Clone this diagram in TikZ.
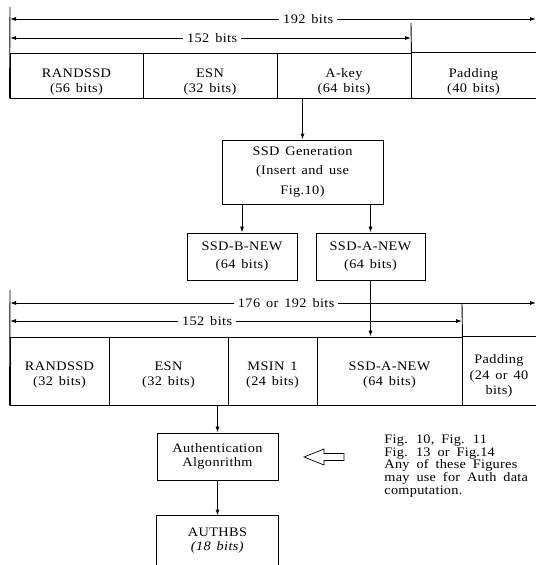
\documentclass[tikz,border=0pt]{standalone}
\usepackage{fontspec}
\setmainfont[FakeStretch=1.1,LetterSpace=3,WordSpace=1.5]{Liberation Serif}
\newfontfamily\notefont[FakeStretch=1.1,LetterSpace=2,WordSpace=1.8]{Liberation Serif}
\usetikzlibrary{arrows.meta,calc}

\begin{document}
\begin{tikzpicture}[x=1pt,y=-1pt,
  line width=0.9pt,
  every node/.style={inner sep=0pt, font=\fontsize{13}{15.5}\selectfont},
  framed/.style={draw},
  topcell/.style={minimum height=45pt},
  midcell/.style={minimum height=68pt},
  celltext/.style={align=center},
  boxnode/.style={draw, align=center},
  arr/.style={-{Latex[length=6pt,width=4pt]}},
  dim/.style={{Latex[length=6pt,width=4pt]}-{Latex[length=6pt,width=4pt]}},
  dimlabel/.style={fill=white, inner xsep=4pt, inner ysep=1pt},
  notetext/.style={anchor=west, align=left, font=\notefont\fontsize{13}{12.7}\selectfont}]

\useasboundingbox (0,0) rectangle (538,565);

% ---- first record: RANDSSD | ESN | A-key | Padding ----
\node[framed, topcell, minimum width=133pt] (rand1) at (76.5,75.5) {};
\node[framed, topcell, minimum width=134pt] (esn1)  at (210,75.5) {};
\node[framed, topcell, minimum width=134pt] (akey1) at (344,75.5) {};
\node[topcell, minimum width=125pt]         (pad1)  at (473.5,75.5) {};
\draw (pad1.north west) -- (pad1.north east);
\draw (pad1.south west) -- (pad1.south east);

\node[celltext] (rand1t) at (rand1 |- 0,82) {RANDSSD\\(56 bits)};
\node[celltext] (esn1t)  at (esn1 |- 0,82)  {ESN\\(32 bits)};
\node[celltext] (akey1t) at (akey1 |- 0,82) {A-key\\(64 bits)};
\node[celltext] (pad1t)  at (pad1 |- 0,82)  {Padding\\(40 bits)};

% length marks above the first record
\coordinate (edge1) at (10,7);
\coordinate (tick1) at (411,23);
\draw (edge1) -- (rand1.south west);
\draw (tick1) -- (akey1.north east);
\coordinate (a192l) at (10,19);
\coordinate (a192r) at (536,19);
\coordinate (a152l) at (10,38);
\coordinate (a152r) at (411,38);
\draw[dim] (a192l) -- (a192r) node[dimlabel, pos=0.567] (t192) {192 bits};
\draw[dim] (a152l) -- (a152r) node[dimlabel, pos=0.504] (t152) {152 bits};

% ---- SSD generation ----
\node[boxnode, minimum width=161pt, minimum height=64pt,
      font=\fontsize{13}{19.5}\selectfont] (ssdgen) at (302.5,172)
      {SSD Generation\\(Insert and use\\Fig.10)};
\node[boxnode, minimum width=110pt, minimum height=47pt,
      font=\fontsize{13}{18}\selectfont] (ssdb) at (242,256.5)
      {SSD-B-NEW\\(64 bits)};
\node[boxnode, minimum width=109pt, minimum height=47pt,
      font=\fontsize{13}{18}\selectfont] (ssda) at (370.5,256.5)
      {SSD-A-NEW\\(64 bits)};

% ---- second record: RANDSSD | ESN | MSIN 1 | SSD-A-NEW | Padding ----
\node[framed, midcell, minimum width=99pt]  (rand2)  at (59.5,371) {};
\node[framed, midcell, minimum width=119pt] (esn2)   at (168.5,371) {};
\node[framed, midcell, minimum width=89pt]  (msin2)  at (272.5,371) {};
\node[framed, midcell, minimum width=145pt] (ssda2)  at (389.5,371) {};
\node[midcell, minimum width=74pt]          (pad2)   at (499,371) {};
\draw (pad2.north west) -- (pad2.north east);
\draw (pad2.south west) -- (pad2.south east);

\node[celltext] (rand2t) at (rand2 |- 0,375) {RANDSSD\\(32 bits)};
\node[celltext] (esn2t)  at (esn2 |- 0,375)  {ESN\\(32 bits)};
\node[celltext] (msin2t) at (msin2 |- 0,375) {MSIN 1\\(24 bits)};
\node[celltext] (ssda2t) at (ssda2 |- 0,375) {SSD-A-NEW\\(64 bits)};
\node[celltext] (pad2t)  at (pad2 |- 0,376)  {Padding\\(24 or 40\\bits)};

% length marks above the second record
\coordinate (edge2) at (10,290);
\coordinate (tick2) at (462,303);
\draw (edge2) -- (rand2.south west);
\draw (tick2) -- (ssda2.north east);
\coordinate (a176l) at (10,303);
\coordinate (a176r) at (536,303);
\coordinate (b152l) at (10,321);
\coordinate (b152r) at (462,321);
\draw[dim] (a176l) -- (a176r) node[dimlabel, pos=0.525] (t176) {176 or 192 bits};
\draw[dim] (b152l) -- (b152r) node[dimlabel, pos=0.436] (u152) {152 bits};

% ---- authentication ----
\node[boxnode, minimum width=121pt, minimum height=47pt,
      font=\fontsize{13}{14.5}\selectfont] (auth) at (217.5,456.5)
      {Authentication\\Algonrithm};
\node[align=center, minimum width=121pt, minimum height=49pt,
      font=\fontsize{13}{14}\selectfont] (authbs) at (217.5,540.5)
      {AUTHBS\\\textit{(18 bits)}};
\draw (authbs.south west) -- (authbs.north west) -- (authbs.north east) -- (authbs.south east);

% hollow arrow pointing at the algorithm box
\coordinate (htip) at (304,457);
\draw[line width=0.7pt] (htip) -- ++(20,-8) -- ++(0,4.5) -- ++(20,0) -- ++(0,7)
      -- ++(-20,0) -- ++(0,4.5) -- cycle;

\node[notetext] (note) at (384,466)
  {Fig. 10, Fig. 11\\Fig. 13 or Fig.14\\Any of these Figures\\may use for Auth data\\computation.};

% ---- flow arrows ----
\draw[arr] (akey1.south -| ssdgen.north) -- (ssdgen.north);
\draw[arr] (ssdgen.south -| ssdb.north) -- (ssdb.north);
\draw[arr] (ssdgen.south -| ssda.north) -- (ssda.north);
\draw[arr] (ssda.south) -- (ssda.south |- ssda2.north);
\draw[arr] (auth.north |- esn2.south) -- (auth.north);
\draw[arr] (auth.south) -- (authbs.north);
\end{tikzpicture}
\end{document}
